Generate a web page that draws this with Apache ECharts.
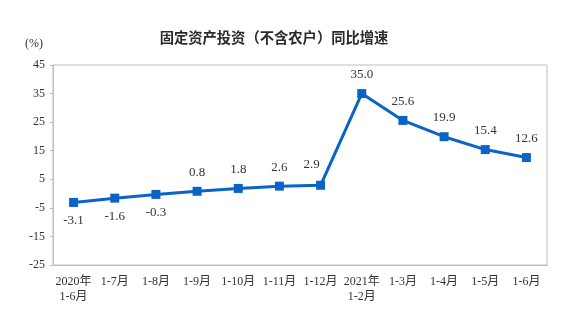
<!DOCTYPE html>
<html><head><meta charset="utf-8">
<script src="https://cdn.jsdelivr.net/npm/echarts@6/dist/echarts.min.js"></script>
<style>html,body{margin:0;padding:0;background:#fff}#c{width:584px;height:322px}</style>
</head><body><div id="c"></div>
<script>
const categories = ['2020年\n1-6月','1-7月','1-8月','1-9月','1-10月','1-11月','1-12月','2021年\n1-2月','1-3月','1-4月','1-5月','1-6月'];
const values = [-3.1,-1.6,-0.3,0.8,1.8,2.6,2.9,35.0,25.6,19.9,15.4,12.6];
const belowIdx = [0,1,2];
const title = '固定资产投资（不含农户）同比增速';
const unit = '(%)';

const chart = echarts.init(document.getElementById('c'), null, {renderer:'canvas'});
const data = values.map((v,i)=>{
  const d = {value:v};
  if (belowIdx.includes(i)) d.label = {position:'bottom', distance:7};
  if (i===6) d.label = {position:'top', offset:[-9,-2]};
  return d;
});
chart.setOption({
  animation:false,
  title:{text:title, left:269, textAlign:'center', top:25,
    textStyle:{fontSize:14.3, fontWeight:'bold', color:'#2a2a2a', fontFamily:'Noto Sans CJK SC'}},
  graphic:[{type:'text', left:25, top:38, style:{text:unit, fontSize:12, fill:'#333', fontFamily:'Liberation Serif'}}],
  grid:{left:53, right:37, top:65, bottom:57, show:true, borderColor:'#bdbdbd', borderWidth:1},
  xAxis:{type:'category', data:categories, boundaryGap:true,
    axisLine:{onZero:false, lineStyle:{color:'#bdbdbd'}},
    axisTick:{inside:true, length:4, lineStyle:{color:'#bdbdbd'}},
    axisLabel:{color:'#333', fontSize:12, fontFamily:'Liberation Serif, Noto Sans CJK SC', margin:9, lineHeight:15, interval:0}},
  yAxis:{type:'value', min:-25, max:45, interval:10,
    splitLine:{show:false},
    axisLine:{show:true, lineStyle:{color:'#bdbdbd'}},
    axisTick:{show:true, length:3, lineStyle:{color:'#bdbdbd'}},
    axisLabel:{color:'#333', fontSize:12, fontFamily:'Liberation Serif', margin:8}},
  series:[{type:'line', data:data, symbol:'rect', symbolSize:9,
    lineStyle:{color:'#0a64c8', width:3}, itemStyle:{color:'#0a64c8'},
    label:{show:true, position:'top', distance:8, color:'#333', fontSize:13, fontFamily:'Liberation Serif',
      formatter:p=>p.value.toFixed(1)}}]
});
</script></body></html>
